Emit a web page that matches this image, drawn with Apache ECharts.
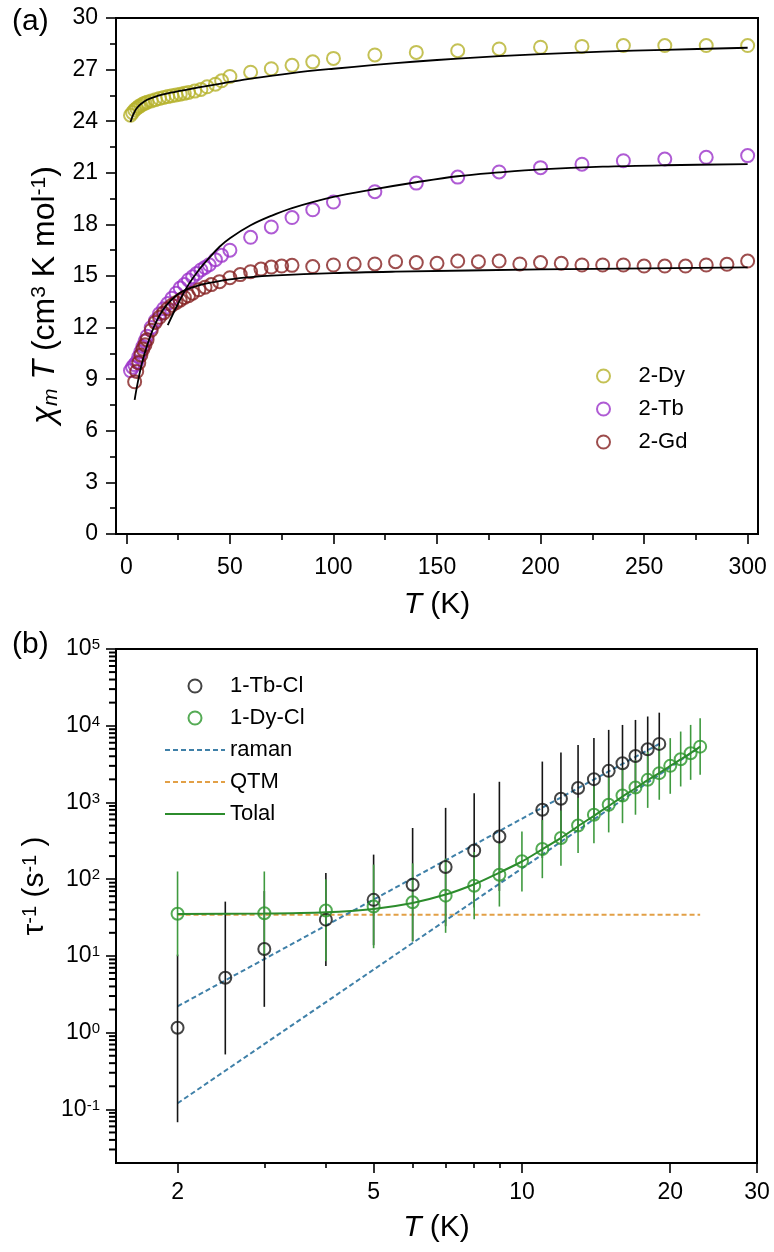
<!DOCTYPE html>
<html><head><meta charset="utf-8">
<script src="https://cdn.jsdelivr.net/npm/echarts@6/dist/echarts.min.js"></script>
<style>html,body{margin:0;padding:0;background:#fff}#c{width:774px;height:1252px}</style>
</head><body><div id="c"></div>
<script>
// ---------- Panel (a): chi_m T vs T ----------
const dyT = [2,3,4,5,6,7,8,9,10,12,14,16,18,20,22,24,26,28,30,33,36,39,43,46,50,60,70,80,90,100,120,140,160,180,200,220,240,260,280,300];
const dyV = [24.35,24.5,24.65,24.75,24.85,24.92,25.0,25.05,25.1,25.18,25.25,25.32,25.38,25.43,25.48,25.52,25.57,25.62,25.67,25.75,25.85,26.0,26.15,26.35,26.6,26.85,27.05,27.25,27.45,27.65,27.85,28.0,28.1,28.2,28.3,28.35,28.4,28.4,28.4,28.4];
const tbT = [2,3,4,5,6,7,8,9,10,12,14,16,18,20,22,24,26,28,30,32,34,36,38,40,43,46,50,60,70,80,90,100,120,140,160,180,200,220,240,260,280,300];
const tbV = [9.5,9.7,9.85,10.0,10.3,10.6,10.9,11.2,11.5,12.0,12.4,12.8,13.1,13.4,13.7,14.0,14.3,14.5,14.77,14.95,15.15,15.35,15.5,15.65,15.95,16.2,16.5,17.25,17.85,18.4,18.85,19.3,19.9,20.4,20.75,21.05,21.3,21.5,21.7,21.8,21.9,22.0];
const gdT = [4,5,6,7,8,9,10,12,14,16,18,20,22,24,26,28,30,32,35,38,41,45,50,55,60,65,70,75,80,90,100,110,120,130,140,150,160,170,180,190,200,210,220,230,240,250,260,270,280,290,300];
const gdV = [8.85,9.45,9.95,10.4,10.75,11.0,11.3,11.85,12.3,12.6,12.85,13.1,13.3,13.45,13.6,13.75,13.85,14.0,14.2,14.35,14.5,14.67,14.9,15.08,15.25,15.4,15.52,15.58,15.62,15.55,15.64,15.7,15.7,15.83,15.78,15.74,15.87,15.83,15.87,15.7,15.78,15.74,15.64,15.64,15.64,15.58,15.58,15.58,15.64,15.68,15.87];
const dyFitT = [2,3,4,5,7,10,15,20,30,40,50,60,80,100,120,140,160,180,200,230,260,300];
const dyFitV = [23.95,24.3,24.55,24.75,25.0,25.25,25.47,25.62,25.85,26.07,26.28,26.48,26.8,27.05,27.27,27.47,27.64,27.78,27.9,28.04,28.15,28.27];
const tbFitT = [20,25,30,35,40,45,50,60,70,80,100,120,140,160,180,200,230,260,300];
const tbFitV = [12.15,13.4,14.5,15.35,16.05,16.7,17.2,17.95,18.5,18.95,19.6,20.05,20.45,20.8,21.02,21.2,21.36,21.44,21.5];
const gdFitT = [4,5,6.5,8,10,13,16,19,23,27,35,43,50,60,70,100,130,200,300];
const gdFitV = [7.8,8.5,9.4,10.15,10.95,11.95,12.7,13.25,13.75,14.1,14.45,14.66,14.8,14.93,15.02,15.17,15.25,15.38,15.5];
const topXTicks = [0,50,100,150,200,250,300];
const topXMinor = [25,75,125,175,225,275];

// ---------- Panel (b): tau^-1 vs T (log-log) ----------
const tbClT  = [2,2.5,3,4,5,6,7,8,9,11,12,13,14,15,16,17,18,19];
const tbClV  = [1.16,5.2,12.3,29.7,53.8,84.8,144,237,360,803,1117,1540,2013,2580,3240,4040,4940,5800];
const tbClLo = [0.068,0.52,2.17,7.4,13.8,15.5,24.4,42.6,70,189,279,421,589,748,1023,1374,1854,2270];
const tbClHi = [10.4,51,70,120,209,465,850,1318,1860,3410,4470,5620,6900,8830,10240,11900,13190,14800];
const dyClT  = [2,3,4,5,6,7,8,9,10,11,12,13,14,15,16,17,18,19,20,21,22,23];
const dyClV  = [35.5,36,39,44,50,61,82,114,171,247,344,501,692,934,1230,1567,1972,2410,3000,3660,4370,5340];
const dyClLo = [9.9,10,8.5,12.6,15.5,20,30,44,69,103,150,219,295,407,537,692,850,1084,1297,1615,1972,2290];
const dyClHi = [126,126,100,155,161,186,226,294,419,590,787,1148,1622,2140,2820,3550,4570,5360,6890,8400,10250,12500];
const ramanTbT = [2,19];   const ramanTbV = [2.2,5800];
const ramanDyT = [2,23];   const ramanDyV = [0.12,5300];
const qtmT = [2,23];       const qtmV = [34.5,34.5];
const totalT = [2,3,4,5,6,7,8,9,10,11,12,13,14,15,16,17,18,19,20,21,22,23];
const totalV = [35.3,35.6,37,41,49,63,86,122,170,245,345,490,670,900,1190,1530,1950,2420,3000,3650,4400,5340];
const botXTicks = [2,5,10,20,30];
const botXMinor = [3,4,6,7,8,9];
const botYTicks = [0.1,1,10,100,1000,10000,100000];
const botYMinorMult = [2,3,4,5,6,7,8,9];

// ---------- helpers ----------
const FONT = '"Liberation Sans", Arial, Helvetica, sans-serif';
const zip = (a,b) => a.map((x,i) => [x,b[i]]);
const zip3 = (a,b,c) => a.map((x,i) => [x,b[i],c[i]]);
const botYMinor = [];
[0.01,0.1,1,10,100,1000,10000].forEach(d => botYMinorMult.forEach(m => {
  const v = +(d*m).toPrecision(3);
  if (v > 0.02 && v < 100000) botYMinor.push(v);
}));
function errBar(color){
  return function(params, api){
    const x = api.value(0), lo = api.value(1), hi = api.value(2);
    const a = api.coord([x, lo]), b = api.coord([x, hi]);
    return {type:'line', shape:{x1:a[0],y1:a[1],x2:b[0],y2:b[1]}, style:{stroke:color, lineWidth:1.6}};
  };
}
const AX = {color:'#000', width:2};
const labelStyle = {fontSize:23, color:'#000', fontFamily:FONT};
const C = {dy:'#b5b22b', tb:'#9b32c9', gd:'#842020', blk:'#151515', grn:'#2a962a', grnBar:'#3f9a3f', raman:'#3f80a8', qtm:'#e2a046'};

function scatter(name, xs, ys, color, xi, yi, size){
  return {name, type:'scatter', xAxisIndex:xi, yAxisIndex:yi, data:zip(xs,ys), symbol:'circle', symbolSize:size,
    itemStyle:{color:'rgba(255,255,255,0)', borderColor:color, borderWidth:2}, z:3};
}
function line(name, xs, ys, color, xi, yi, opts){
  return Object.assign({name, type:'line', xAxisIndex:xi, yAxisIndex:yi, data:zip(xs,ys), symbol:'none', showSymbol:false,
    lineStyle:{color, width:1.8}, itemStyle:{color}, z:4}, opts||{});
}
const noSym = {opacity:0};
const panelLabels = [
  {type:'text', left:12, top:7, style:{text:'(a)', fontSize:30, fontFamily:FONT, fill:'#000'}},
  {type:'text', left:12, top:630, style:{text:'(b)', fontSize:30, fontFamily:FONT, fill:'#000'}}
];

const chart = echarts.init(document.getElementById('c'), null, {renderer:'canvas'});
const option = {
  animation:false,
  backgroundColor:'#fff',
  textStyle:{fontFamily:FONT},
  grid:[
    {left:116, top:18, width:642, height:516, show:true, borderColor:'#000', borderWidth:2, backgroundColor:'rgba(0,0,0,0)', containLabel:false, outerBoundsMode:'none'},
    {left:116, top:649, width:641, height:514, show:true, borderColor:'#000', borderWidth:2, backgroundColor:'rgba(0,0,0,0)', containLabel:false, outerBoundsMode:'none'}
  ],
  xAxis:[
    {gridIndex:0, type:'value', min:-5, max:305, position:'bottom',
     axisLine:{onZero:false, lineStyle:AX},
     axisTick:{customValues:topXTicks, length:10, lineStyle:{color:'#000', width:1.6}},
     axisLabel:Object.assign({customValues:topXTicks, margin:22}, labelStyle),
     splitLine:{show:false},
     name:'{it|T} (K)', nameLocation:'middle', nameGap:56,
     nameTextStyle:{fontSize:30, color:'#000', fontFamily:FONT, rich:{it:{fontSize:30, fontStyle:'italic', fontFamily:FONT}}}},
    {gridIndex:1, type:'log', logBase:10, min:1.5, max:30, position:'bottom',
     axisLine:{onZero:false, lineStyle:AX},
     axisTick:{customValues:botXTicks, length:10, lineStyle:{color:'#000', width:1.6}},
     axisLabel:Object.assign({customValues:botXTicks, margin:18}, labelStyle),
     splitLine:{show:false}, minorTick:{show:false},
     name:'{it|T} (K)', nameLocation:'middle', nameGap:50,
     nameTextStyle:{fontSize:30, color:'#000', fontFamily:FONT, rich:{it:{fontSize:30, fontStyle:'italic', fontFamily:FONT}}}},
    {gridIndex:0, type:'value', min:-5, max:305, position:'bottom',
     axisLine:{show:false, onZero:false},
     axisTick:{customValues:topXMinor, length:6, lineStyle:{color:'#000', width:1.6}},
     axisLabel:{show:false}, splitLine:{show:false}},
    {gridIndex:1, type:'log', logBase:10, min:1.5, max:30, position:'bottom',
     axisLine:{show:false, onZero:false},
     axisTick:{customValues:botXMinor, length:5, lineStyle:{color:'#000', width:1.6}},
     axisLabel:{show:false}, splitLine:{show:false}}
  ],
  yAxis:[
    {gridIndex:0, type:'value', min:0, max:30, interval:3, position:'left',
     axisLine:{onZero:false, lineStyle:AX},
     axisTick:{length:10, lineStyle:{color:'#000', width:1.6}},
     minorTick:{show:true, splitNumber:2, length:6, lineStyle:{color:'#000', width:1.6}},
     axisLabel:Object.assign({margin:18}, labelStyle),
     splitLine:{show:false}, minorSplitLine:{show:false},
     name:'{chi|χ}{sub|m} {it|T} (cm{sup|3} K mol{sup|-1})', nameLocation:'middle', nameGap:42,
     nameTextStyle:{fontSize:32, color:'#000', fontFamily:FONT, padding:[0,38,0,0],
       rich:{chi:{fontSize:33, fontStyle:'italic', fontFamily:FONT},
             sub:{fontSize:21, fontStyle:'italic', verticalAlign:'bottom', fontFamily:FONT},
             it:{fontSize:32, fontStyle:'italic', fontFamily:FONT},
             sup:{fontSize:21, verticalAlign:'top', fontFamily:FONT}}}},
    {gridIndex:1, type:'log', logBase:10, min:0.02, max:100000, position:'left',
     axisLine:{onZero:false, lineStyle:AX},
     axisTick:{customValues:botYTicks, length:10, lineStyle:{color:'#000', width:1.6}},
     axisLabel:Object.assign({customValues:botYTicks, margin:16,
        formatter:function(v){ const e = Math.round(Math.log10(v)); return '10{sup|' + e + '}'; },
        rich:{sup:{fontSize:15, verticalAlign:'top', fontFamily:FONT, color:'#000'}}}, labelStyle),
     splitLine:{show:false}, minorTick:{show:false},
     name:'τ{sup|-1} (s{sup|-1} )', nameLocation:'middle', nameGap:52,
     nameTextStyle:{fontSize:30, color:'#000', fontFamily:FONT, padding:[0,0,0,40],
       rich:{sup:{fontSize:20, verticalAlign:'top', fontFamily:FONT}}}}
  ],
  legend:[
    {data:['2-Dy','2-Tb','2-Gd'], orient:'vertical', left:591, top:360, itemWidth:60, itemHeight:13, itemGap:11,
     textStyle:{fontSize:22, color:'#000', fontFamily:FONT}, itemStyle:{borderWidth:2}, selectedMode:false},
    {data:['1-Tb-Cl','1-Dy-Cl',{name:'raman', itemStyle:noSym},{name:'QTM', itemStyle:noSym},{name:'Tolal', itemStyle:noSym}],
     orient:'vertical', left:159, top:670, itemWidth:60, itemHeight:13, itemGap:10,
     textStyle:{fontSize:22, color:'#000', fontFamily:FONT}, itemStyle:{borderWidth:2}, selectedMode:false}
  ],
  graphic:panelLabels,
  series:[
    scatter('2-Dy', dyT, dyV, C.dy, 0, 0, 13),
    scatter('2-Tb', tbT, tbV, C.tb, 0, 0, 13),
    scatter('2-Gd', gdT, gdV, C.gd, 0, 0, 13),
    line('fitDy', dyFitT, dyFitV, '#000', 0, 0, {smooth:0.35}),
    line('fitTb', tbFitT, tbFitV, '#000', 0, 0, {smooth:0.35}),
    line('fitGd', gdFitT, gdFitV, '#000', 0, 0, {smooth:0.35}),

    line('QTM', qtmT, qtmV, C.qtm, 1, 1, {lineStyle:{color:C.qtm, width:2, type:[5,3]}, z:2}),
    line('raman', ramanTbT, ramanTbV, C.raman, 1, 1, {lineStyle:{color:C.raman, width:2, type:[5,3]}, z:2}),
    line('raman', ramanDyT, ramanDyV, C.raman, 1, 1, {lineStyle:{color:C.raman, width:2, type:[5,3]}, z:2}),
    {name:'errTb', type:'custom', xAxisIndex:1, yAxisIndex:1, renderItem:errBar(C.blk), data:zip3(tbClT,tbClLo,tbClHi), encode:{x:0, y:[1,2]}, z:3, silent:true},
    scatter('1-Tb-Cl', tbClT, tbClV, C.blk, 1, 1, 12),
    {name:'errDy', type:'custom', xAxisIndex:1, yAxisIndex:1, renderItem:errBar(C.grnBar), data:zip3(dyClT,dyClLo,dyClHi), encode:{x:0, y:[1,2]}, z:3, silent:true},
    scatter('1-Dy-Cl', dyClT, dyClV, C.grn, 1, 1, 12),
    line('Tolal', totalT, totalV, C.grn, 1, 1, {smooth:0.3, lineStyle:{color:'#2c8c2c', width:2}, z:4})
  ]
};
chart.setOption(option);

// Minor ticks of the log y axis of panel (b): positions come from the chart's own log scale.
const minorTickGraphics = botYMinor.map(v => {
  const p = chart.convertToPixel({xAxisIndex:1, yAxisIndex:1}, [1.5, v]);
  return {type:'line', z:50, silent:true, shape:{x1:p[0]-7, y1:p[1], x2:p[0], y2:p[1]}, style:{stroke:'#000', lineWidth:2}};
});
chart.setOption({graphic: panelLabels.concat(minorTickGraphics)});
</script></body></html>
